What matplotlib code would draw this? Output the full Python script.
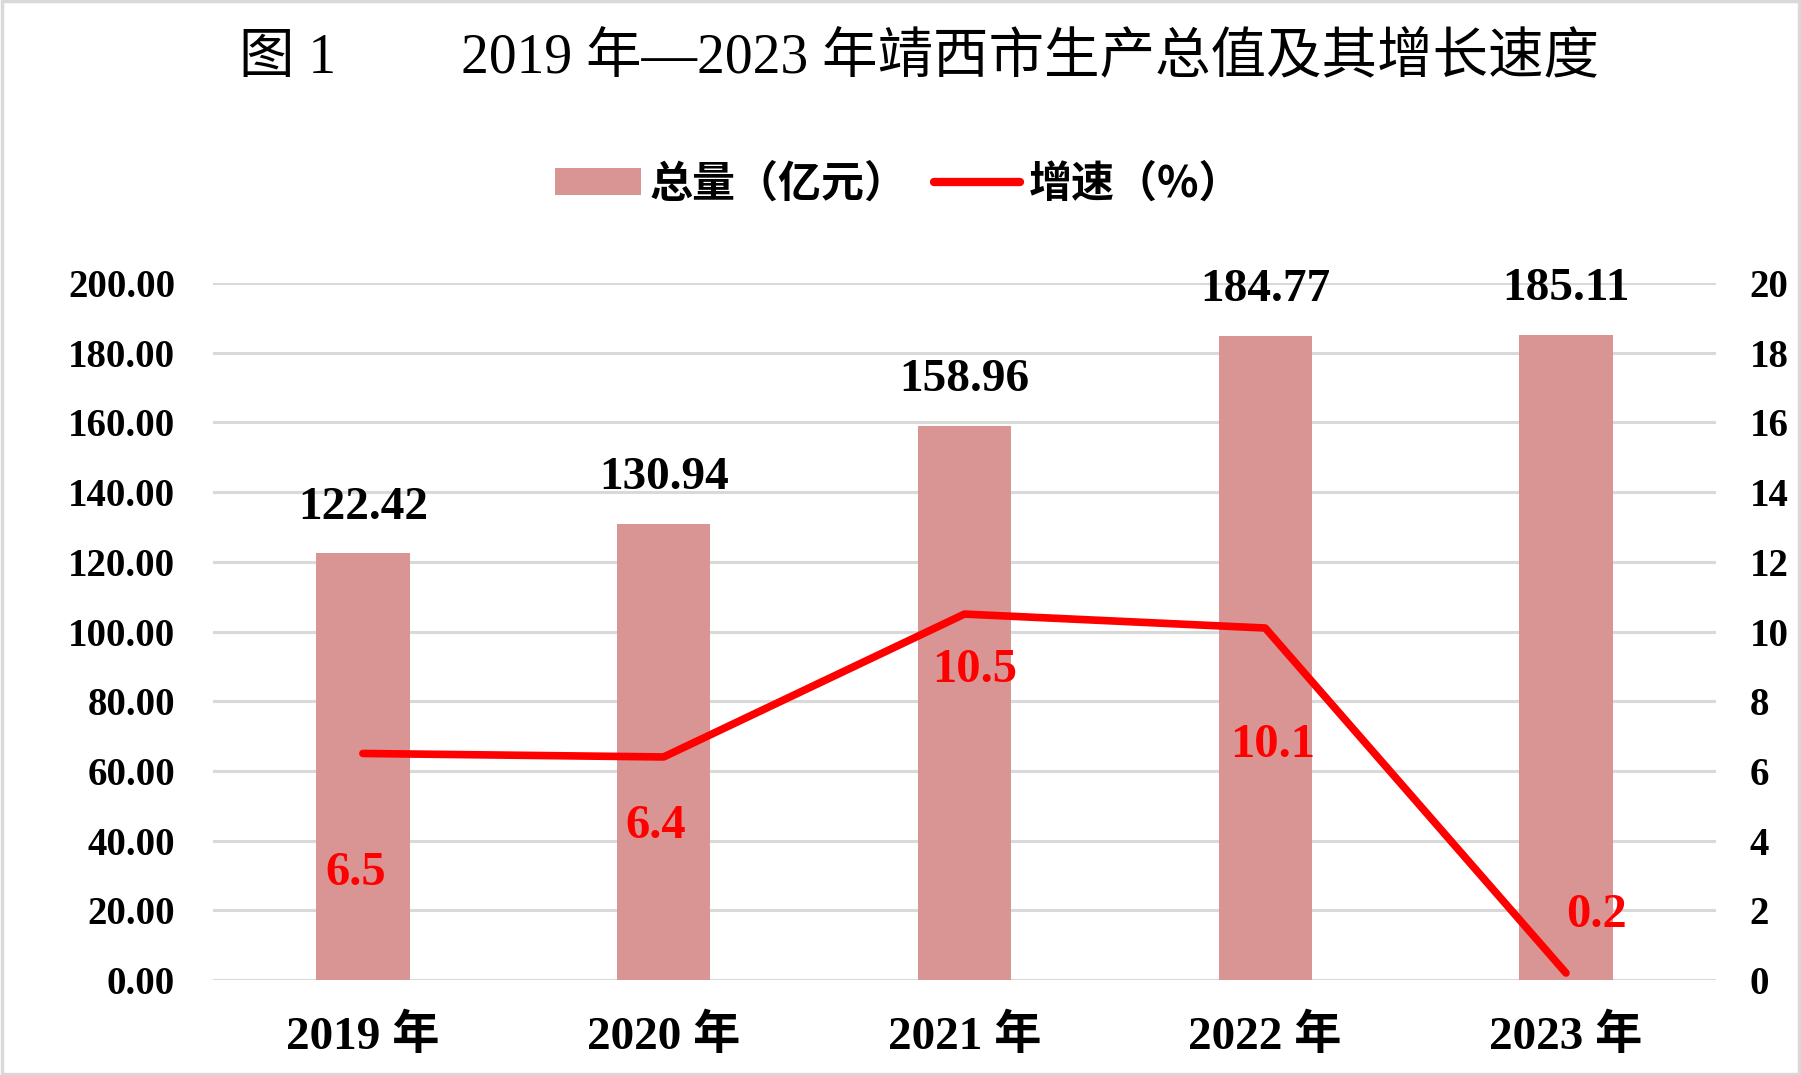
import matplotlib
matplotlib.use("Agg")
import matplotlib.pyplot as plt
from matplotlib.patches import Rectangle, Patch
from matplotlib.lines import Line2D
from matplotlib.font_manager import FontProperties

years = ["2019 年", "2020 年", "2021 年", "2022 年", "2023 年"]
gdp = [122.42, 130.94, 158.96, 184.77, 185.11]
growth = [6.5, 6.4, 10.5, 10.1, 0.2]

# label offsets (points) for the growth labels, as placed in the original
growth_offsets = [(-5, -86), (-6, -50), (7, -40), (5, -84), (22, 42)]

bar_color = "#D99594"
line_color = "#FF0000"
grid_color = "#D9D9D9"
serif_cjk = ["Liberation Serif", "Noto Sans CJK SC"]

fig = plt.figure(figsize=(18.01, 10.75), dpi=100)
ax = fig.add_axes([0.118, 0.0884, 0.835, 0.6483])
ax2 = ax.twinx()

x = list(range(len(years)))
ax.bar(x, gdp, width=0.31, color=bar_color, zorder=2)
ax.set_xlim(-0.5, 4.5)
ax.set_ylim(0, 200)
ax.set_yticks(range(0, 201, 20))
ax.set_yticklabels([f"{v:.2f}" for v in range(0, 201, 20)])
ax.yaxis.grid(True, color=grid_color, linewidth=2.2)
ax.set_axisbelow(True)
ax.set_xticks(x)
ax.set_xticklabels(years)

ax2.plot(x, growth, color=line_color, linewidth=5.5, solid_capstyle="round", zorder=3)
ax2.set_ylim(0, 20)
ax2.set_yticks(range(0, 21, 2))
ax2.set_yticklabels([str(v) for v in range(0, 21, 2)])

for a in (ax, ax2):
    for s in a.spines.values():
        s.set_visible(False)
    a.tick_params(length=0)

ax.tick_params(axis="y", pad=27)
ax2.tick_params(axis="y", pad=24)
ax.tick_params(axis="x", pad=25)
for t in ax.get_yticklabels() + ax2.get_yticklabels():
    t.set_fontfamily(serif_cjk)
    t.set_fontweight("bold")
    t.set_fontsize(28)
for t in ax.get_xticklabels():
    t.set_fontfamily(serif_cjk)
    t.set_fontweight("bold")
    t.set_fontsize(34)

for xi, v in zip(x, gdp):
    ax.annotate(f"{v:.2f}", (xi, v), xytext=(0, 33), textcoords="offset points",
                ha="center", va="center", fontsize=34, fontweight="bold",
                family=serif_cjk, color="black")

for xi, v, (dx, dy) in zip(x, growth, growth_offsets):
    ax2.annotate(f"{v}", (xi, v), xytext=(dx, dy), textcoords="offset points",
                 ha="center", va="center", fontsize=35, fontweight="bold",
                 family=serif_cjk, color=line_color)

fig.text(0.51, 0.946, "图 1         2019 年—2023 年靖西市生产总值及其增长速度",
         ha="center", va="center", fontsize=40, family=serif_cjk)

handles = [Patch(facecolor=bar_color, edgecolor="none"),
           Line2D([0], [0], color=line_color, linewidth=6, solid_capstyle="round")]
fig.legend(handles, ["总量（亿元）", "增速（%）"], loc="center",
           bbox_to_anchor=(0.499, 0.829), ncol=2, frameon=False,
           prop=FontProperties(family=["Noto Sans CJK SC", "DejaVu Sans"], weight="bold", size=31),
           handlelength=2.0, handleheight=0.6, handletextpad=0.2, columnspacing=0.6)

fig.patches.append(Rectangle((0.001, 0.001), 0.998, 0.998, transform=fig.transFigure,
                             fill=False, edgecolor=grid_color, linewidth=2.5))

fig.savefig("out.png", dpi=100, facecolor="white")
